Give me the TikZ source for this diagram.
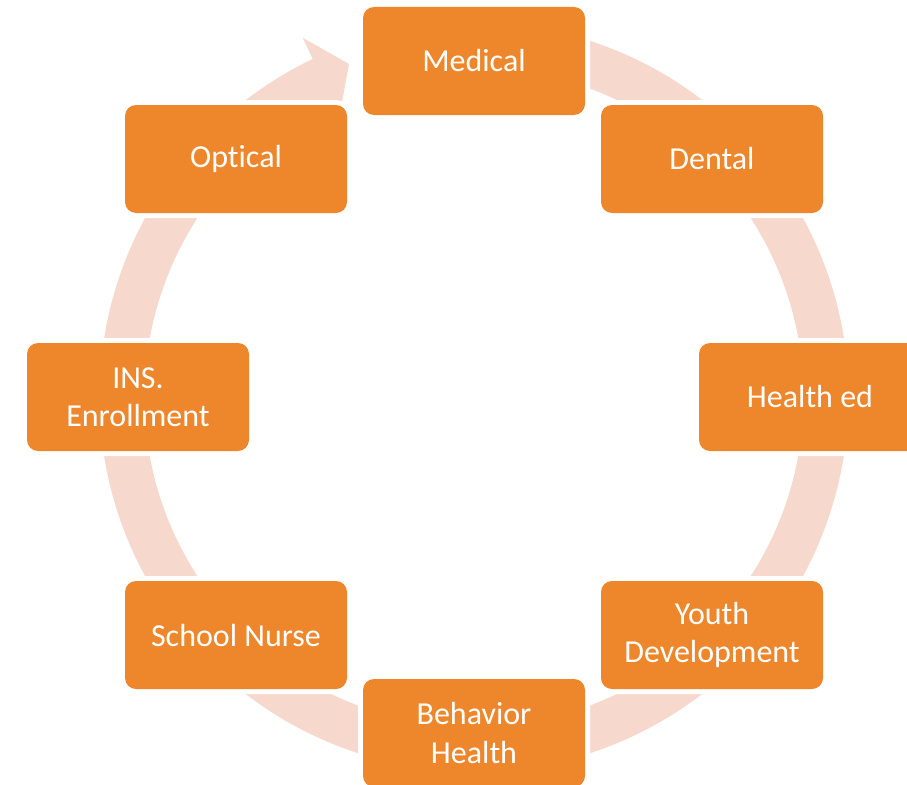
\documentclass[tikz,border=0pt]{standalone}
\usepackage{fontspec}
\setmainfont{Carlito}[Ligatures=NoCommon]
\definecolor{boxor}{HTML}{EE872B}
\definecolor{ringc}{HTML}{F7D8CC}
\begin{document}
\begin{tikzpicture}[x=1pt,y=-1pt,
  cbox/.style={rectangle, rounded corners=11pt, fill=boxor, minimum width=222pt, minimum height=108pt, inner sep=0pt, align=center, text=white, font=\fontsize{32}{38.5}\selectfont, preaction={draw=white, line width=10pt}},
  ringarc/.style={draw=ringc, line width=45pt},
  ringhead/.style={fill=ringc}]
\useasboundingbox (0,0) rectangle (907,784);
\clip (0,0) rectangle (907,784);
\coordinate (c) at (474,397);
\draw[ringarc] ([shift={(-80:352)}]c) arc[start angle=-80, end angle=245, radius=352];
\fill[ringhead] ([shift={(244.5:374)}]c) -- ([shift={(244.5:398)}]c) -- (349,64) -- (342,102) -- (336,125) -- ([shift={(244.5:330)}]c) -- cycle;
\node[cbox] (med) at (474,61) {Medical};
\node[cbox] (den) at (712,159) {Dental};
\node[cbox] (hed) at (810,397) {Health ed};
\node[cbox] (you) at (712,635) {Youth\\Development};
\node[cbox] (beh) at (474,733) {Behavior\\Health};
\node[cbox] (sch) at (236,635) {School Nurse};
\node[cbox] (ins) at (138,397) {INS.\\Enrollment};
\node[cbox] (opt) at (236,159) {Optical};
\end{tikzpicture}
\end{document}
